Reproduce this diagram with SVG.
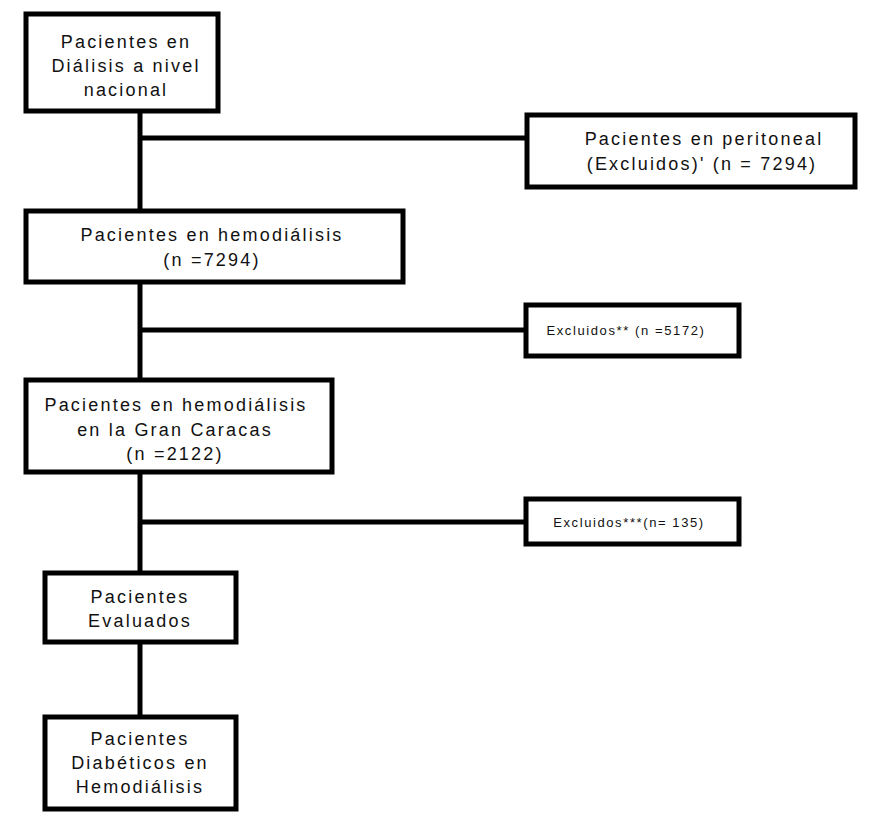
<svg xmlns="http://www.w3.org/2000/svg" width="881" height="814" viewBox="0 0 881 814">
<style>
.box{fill:#fff;stroke:#000;stroke-width:5}
.t{font-family:"Liberation Sans",Arial,sans-serif;font-size:18px;letter-spacing:2.2px;fill:#111;text-anchor:middle}
.s{font-family:"Liberation Sans",Arial,sans-serif;font-size:13px;letter-spacing:1.6px;fill:#111;text-anchor:middle}
.c{stroke:#000;stroke-width:5;fill:none}
</style>
<rect width="881" height="814" fill="#fff"/>
<g id="connectors">
<line class="c" x1="140" y1="111" x2="140" y2="211"/>
<line class="c" x1="140" y1="282" x2="140" y2="380"/>
<line class="c" x1="140" y1="472" x2="140" y2="573"/>
<line class="c" x1="140" y1="642" x2="140" y2="717"/>
<line class="c" x1="138" y1="138" x2="527" y2="138"/>
<line class="c" x1="138" y1="330" x2="526" y2="330"/>
<line class="c" x1="138" y1="522" x2="526" y2="522"/>
</g>
<g id="n1">
<rect class="box" x="26" y="14" width="192" height="97"/>
<text class="t" x="126" y="48">Pacientes en</text>
<text class="t" x="126" y="72">Diálisis a nivel</text>
<text class="t" x="126" y="96">nacional</text>
</g>
<g id="n2">
<rect class="box" x="527" y="115" width="328" height="72"/>
<text class="t" x="704" y="145">Pacientes en peritoneal</text>
<text class="t" x="702" y="170">(Excluidos)'  (n = 7294)</text>
</g>
<g id="n3">
<rect class="box" x="26" y="211" width="377" height="71"/>
<text class="t" x="212" y="241">Pacientes en hemodiálisis</text>
<text class="t" x="212" y="266">(n =7294)</text>
</g>
<g id="n4">
<rect class="box" x="526" y="305" width="213" height="51"/>
<text class="s" x="626" y="335">Excluidos** (n =5172)</text>
</g>
<g id="n5">
<rect class="box" x="26" y="380" width="306" height="92"/>
<text class="t" x="176" y="411">Pacientes en hemodiálisis</text>
<text class="t" x="175" y="436">en la Gran Caracas</text>
<text class="t" x="175" y="460">(n =2122)</text>
</g>
<g id="n6">
<rect class="box" x="526" y="499" width="213" height="45"/>
<text class="s" x="629" y="527">Excluidos***(n= 135)</text>
</g>
<g id="n7">
<rect class="box" x="45" y="573" width="191" height="69"/>
<text class="t" x="140" y="603">Pacientes</text>
<text class="t" x="140" y="627">Evaluados</text>
</g>
<g id="n8">
<rect class="box" x="45" y="717" width="191" height="92"/>
<text class="t" x="140" y="745">Pacientes</text>
<text class="t" x="140" y="769">Diabéticos en</text>
<text class="t" x="140" y="793">Hemodiálisis</text>
</g>
</svg>
